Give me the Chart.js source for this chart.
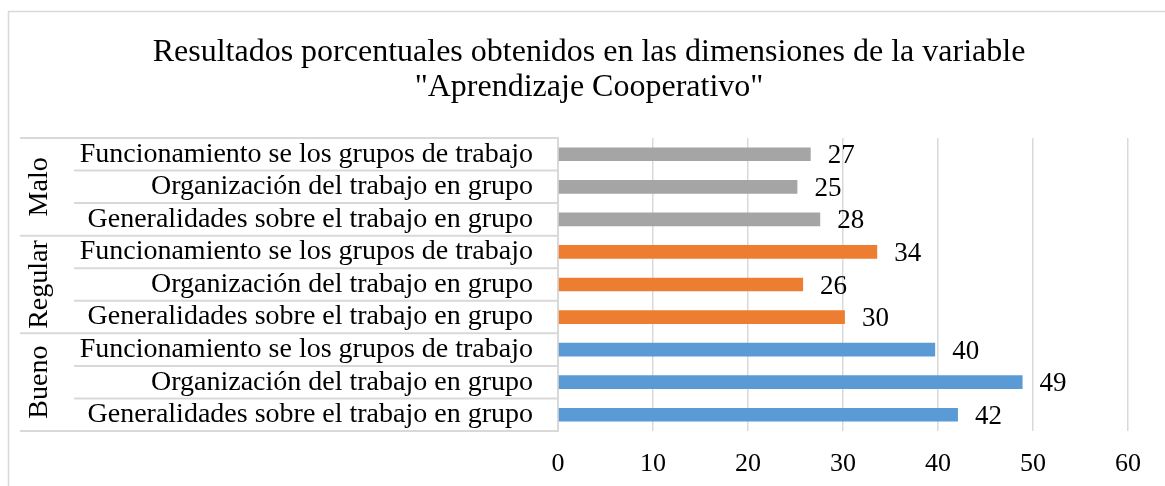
<!DOCTYPE html>
<html>
<head>
<meta charset="utf-8">
<script src="https://cdn.jsdelivr.net/npm/chart.js@4"></script>
<style>
  html, body { margin: 0; padding: 0; background: #fff; }
  canvas { display: block; }
</style>
</head>
<body>
<canvas id="coopChart" width="1165" height="486"></canvas>
<script>
// DATA (bottom to top, same order as the spreadsheet)

const groups = ["Bueno", "Regular", "Malo"];
const dimensions = [
    "Generalidades sobre el trabajo en grupo",
    "Organización del trabajo en grupo",
    "Funcionamiento se los grupos de trabajo"
];
const bueno = [42.1, 48.9, 39.7];
const regular = [30.2, 25.8, 33.6];
const malo = [27.6, 25.2, 26.6];
const groupColors = ["#5B9BD5", "#ED7D31", "#A5A5A5"];
const xTicks = [0, 10, 20, 30, 40, 50, 60];
const titleLines = [
    "Resultados porcentuales obtenidos en las dimensiones de la variable",
    "\"Aprendizaje Cooperativo\""
];

const serif = "'Liberation Serif', 'Times New Roman', serif";

// BUILD ROWS

const seriesByGroup = [bueno, regular, malo];
const labels = [];
const values = [];
const colors = [];

groups.forEach((g, gi) => {
    dimensions.forEach((d, di) => {
        labels.push(d);
        values.push(seriesByGroup[gi][di]);
        colors.push(groupColors[gi]);
    });
});

// PLUGINS

// outer chart border + title
const frame = {
    id: "frame",
    beforeDraw(chart) {
        const ctx = chart.ctx;
        ctx.save();
        ctx.fillStyle = "#fff";
        ctx.fillRect(0, 0, chart.width, chart.height);
        ctx.strokeStyle = "#D9D9D9";
        ctx.lineWidth = 1.5;
        ctx.strokeRect(8.5, 11.5, chart.width + 20, chart.height + 20);

        ctx.fillStyle = "#000";
        ctx.font = "32px " + serif;
        ctx.textAlign = "center";
        ctx.textBaseline = "middle";
        titleLines.forEach((line, i) => {
            ctx.fillText(line, 589, 53 + i * 35);
        });
        ctx.restore();
    }
};

// table lines + group names on the category axis
const groupAxis = {
    id: "groupAxis",
    afterDraw(chart) {
        const ctx = chart.ctx;
        const y = chart.scales.y;
        const area = chart.chartArea;
        const n = labels.length;
        const step = (area.bottom - area.top) / n;
        const per = dimensions.length;

        ctx.save();
        ctx.strokeStyle = "#D9D9D9";
        ctx.lineWidth = 2;

        for (let i = 0; i <= n; i++) {
            const py = area.bottom - i * step;
            const startX = (i % per === 0) ? 20 : 74;
            ctx.beginPath();
            ctx.moveTo(startX, py);
            ctx.lineTo(area.left, py);
            ctx.stroke();
        }

        ctx.fillStyle = "#000";
        ctx.font = "28px " + serif;
        ctx.textAlign = "center";
        ctx.textBaseline = "middle";
        groups.forEach((g, gi) => {
            const first = y.getPixelForValue(gi * per);
            const last = y.getPixelForValue(gi * per + per - 1);
            const cy = (first + last) / 2;
            ctx.save();
            ctx.translate(40, cy);
            ctx.rotate(-Math.PI / 2);
            ctx.fillText(g, 0, 0);
            ctx.restore();
        });
        ctx.restore();
    }
};

// value labels at bar ends
const valueLabels = {
    id: "valueLabels",
    afterDatasetsDraw(chart) {
        const ctx = chart.ctx;
        const meta = chart.getDatasetMeta(0);
        ctx.save();
        ctx.fillStyle = "#000";
        ctx.font = "27px " + serif;
        ctx.textAlign = "left";
        ctx.textBaseline = "middle";
        meta.data.forEach((bar, i) => {
            ctx.fillText(Math.round(values[i]), bar.x + 17, bar.y + 2);
        });
        ctx.restore();
    }
};

// CHART

const ctx = document.getElementById("coopChart");

new Chart(ctx, {
    type: "bar",
    data: {
        labels: labels,
        datasets: [{
            data: values,
            backgroundColor: colors,
            borderWidth: 0,
            barPercentage: 0.42,
            categoryPercentage: 1
        }]
    },
    options: {
        indexAxis: "y",
        responsive: false,
        animation: false,
        layout: {
            padding: { top: 138, right: 37, bottom: 0, left: 0 }
        },
        scales: {
            x: {
                min: xTicks[0],
                max: xTicks[xTicks.length - 1],
                afterBuildTicks(scale) {
                    scale.ticks = xTicks.map(v => ({ value: v }));
                },
                afterFit(scale) {
                    scale.height = 55;
                },
                grid: {
                    color: "#D9D9D9",
                    lineWidth: 1.5,
                    drawTicks: false
                },
                border: { display: false },
                ticks: {
                    color: "#000",
                    padding: 18,
                    font: { family: serif, size: 26 }
                }
            },
            y: {
                reverse: true,
                afterFit(scale) {
                    scale.width = 558;
                },
                grid: { display: false, drawTicks: false },
                border: { color: "#D9D9D9", width: 2 },
                ticks: {
                    color: "#000",
                    padding: 25,
                    autoSkip: false,
                    font: { family: serif, size: 28 }
                }
            }
        },
        plugins: {
            legend: { display: false },
            tooltip: { enabled: false },
            title: { display: false }
        }
    },
    plugins: [frame, groupAxis, valueLabels]
});
</script>
</body>
</html>
